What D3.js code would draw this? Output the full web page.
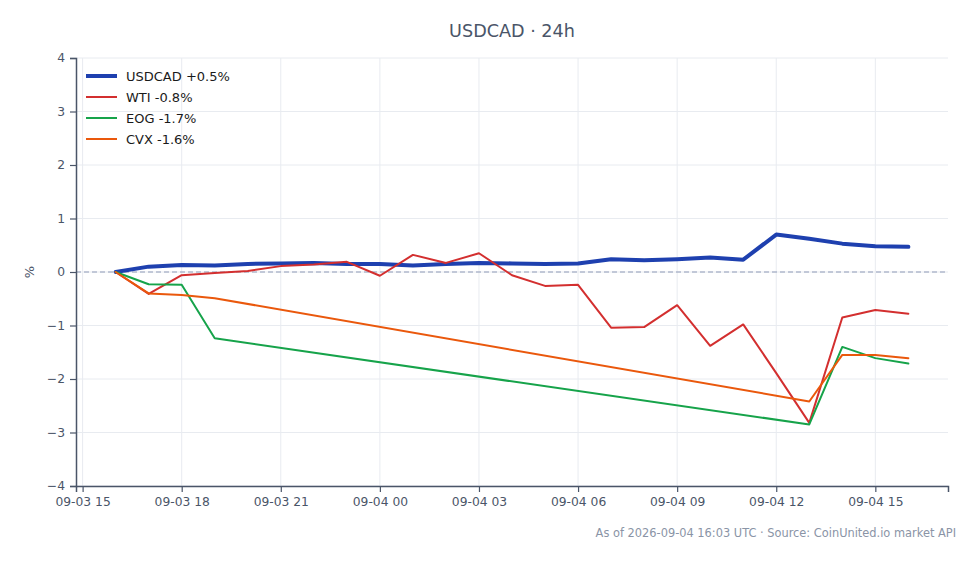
<!DOCTYPE html>
<html>
<head>
<meta charset="utf-8">
<script src="https://cdn.jsdelivr.net/npm/d3@7"></script>
<style>
  html, body { margin: 0; padding: 0; background: #fff; }
  svg { display: block; font-family: "DejaVu Sans", Verdana, sans-serif; }
</style>
</head>
<body>
<svg id="chart" width="980" height="564"></svg>
<script>
// ---- data ----
const times = [
  "2026-09-03T16:00Z","2026-09-03T17:00Z","2026-09-03T18:00Z","2026-09-03T19:00Z",
  "2026-09-03T20:00Z","2026-09-03T21:00Z","2026-09-03T22:00Z","2026-09-03T23:00Z",
  "2026-09-04T00:00Z","2026-09-04T01:00Z","2026-09-04T02:00Z","2026-09-04T03:00Z",
  "2026-09-04T04:00Z","2026-09-04T05:00Z","2026-09-04T06:00Z","2026-09-04T07:00Z",
  "2026-09-04T08:00Z","2026-09-04T09:00Z","2026-09-04T10:00Z","2026-09-04T11:00Z",
  "2026-09-04T12:00Z","2026-09-04T13:00Z","2026-09-04T14:00Z","2026-09-04T15:00Z",
  "2026-09-04T16:00Z"
];
const usdcad = [0, 0.10, 0.13, 0.12, 0.15, 0.16, 0.17, 0.15, 0.15, 0.12, 0.15, 0.17,
  0.16, 0.15, 0.16, 0.24, 0.22, 0.24, 0.27, 0.23, 0.70, 0.62, 0.53, 0.48, 0.47];
const wti = [0, -0.41, -0.06, -0.02, 0.02, 0.11, 0.14, 0.19, -0.07, 0.32, 0.17, 0.35,
  -0.06, -0.26, -0.24, -1.04, -1.03, -0.62, -1.38, -0.98, -1.89, -2.82, -0.85, -0.71, -0.78];
const eog = [0, -0.23, -0.24, -1.24, null, null, null, null, null, null, null, null,
  null, null, null, null, null, null, null, null, null, -2.85, -1.40, -1.61, -1.71];
const cvx = [0, -0.40, -0.43, -0.49, null, null, null, null, null, null, null, null,
  null, null, null, null, null, null, null, null, null, -2.42, -1.55, -1.55, -1.61];
const seriesNames = ["USDCAD +0.5%", "WTI -0.8%", "EOG -1.7%", "CVX -1.6%"];
const seriesColors = ["#1e40af", "#d32f2f", "#16a34a", "#ea580c"];
const seriesWidths = [4, 2, 2, 2];
const yTicks = [-4, -3, -2, -1, 0, 1, 2, 3, 4];
const titleText = "USDCAD · 24h";
const footerText = "As of 2026-09-04 16:03 UTC · Source: CoinUnited.io market API";

// ---- layout ----
const svg = d3.select("#chart");
const m = { left: 76, right: 948, top: 58, bottom: 486 };
const axisColor = "#4a5568";
const gridColor = "#e8ebf0";

const parsed = times.map(t => new Date(t));
const t0 = parsed[0], t1 = parsed[parsed.length - 1];
const pad = 72 * 60 * 1000;
const x = d3.scaleUtc()
  .domain([new Date(+t0 - pad), new Date(+t1 + pad)])
  .range([m.left, m.right]);
const y = d3.scaleLinear().domain([-4, 4]).range([m.bottom, m.top]);

const xTicks = d3.utcHour.every(3).range(new Date(+t0 - pad), new Date(+t1 + pad + 1));

// grid
const grid = svg.append("g");
grid.selectAll("line.v").data(xTicks).join("line")
  .attr("x1", d => x(d)).attr("x2", d => x(d))
  .attr("y1", m.top).attr("y2", m.bottom)
  .attr("stroke", gridColor).attr("stroke-width", 1);
grid.selectAll("line.h").data(yTicks).join("line")
  .attr("x1", m.left).attr("x2", m.right)
  .attr("y1", d => y(d)).attr("y2", d => y(d))
  .attr("stroke", gridColor).attr("stroke-width", 1);

// zero line
svg.append("line")
  .attr("x1", m.left).attr("x2", m.right)
  .attr("y1", y(0)).attr("y2", y(0))
  .attr("stroke", "#8f9bb8").attr("stroke-width", 1.2)
  .attr("stroke-dasharray", "5,3");

// axes
const xAxis = svg.append("g").attr("transform", `translate(0,${m.bottom})`)
  .call(d3.axisBottom(x).tickValues(xTicks).tickFormat(d3.utcFormat("%m-%d %H")).tickSizeOuter(0).tickSize(6).tickPadding(5));
const yAxis = svg.append("g").attr("transform", `translate(${m.left},0)`)
  .call(d3.axisLeft(y).tickValues(yTicks).tickFormat(d3.format("d")).tickSizeOuter(0).tickSize(6).tickPadding(5));
[xAxis, yAxis].forEach(a => {
  a.select(".domain").attr("stroke", axisColor).attr("stroke-width", 1.5);
  a.selectAll(".tick line").attr("stroke", axisColor).attr("stroke-width", 1.2);
  a.selectAll(".tick text").attr("fill", axisColor).attr("font-size", 12.3)
    .attr("font-family", "DejaVu Sans, sans-serif");
});

// y label
svg.append("text")
  .attr("transform", `translate(34,${y(0)}) rotate(-90)`)
  .attr("text-anchor", "middle")
  .attr("fill", axisColor).attr("font-size", 13)
  .text("%");

// lines
const allSeries = [usdcad, wti, eog, cvx];
const line = d3.line().x(d => x(d.t)).y(d => y(d.v));
allSeries.forEach((s, i) => {
  const pts = s.map((v, k) => ({ t: parsed[k], v })).filter(d => d.v !== null);
  svg.append("path")
    .datum(pts)
    .attr("d", line)
    .attr("fill", "none")
    .attr("stroke", seriesColors[i])
    .attr("stroke-width", seriesWidths[i])
    .attr("stroke-linejoin", "round")
    .attr("stroke-linecap", "round");
});

// legend
const lg = svg.append("g").attr("transform", "translate(86,76)");
seriesNames.forEach((name, i) => {
  const g = lg.append("g").attr("transform", `translate(0,${i * 21})`);
  g.append("line").attr("x1", 0).attr("x2", 31).attr("y1", 0).attr("y2", 0)
    .attr("stroke", seriesColors[i]).attr("stroke-width", seriesWidths[i]);
  g.append("text").attr("x", 40).attr("y", 0).attr("dy", "0.35em")
    .attr("font-size", 13).attr("fill", "#1a1a1a").text(name);
});

// title
svg.append("text")
  .attr("x", (m.left + m.right) / 2).attr("y", 37)
  .attr("text-anchor", "middle")
  .attr("font-size", 17.6).attr("fill", "#4a5568")
  .text(titleText);

// footer
svg.append("text")
  .attr("x", 956).attr("y", 537)
  .attr("text-anchor", "end")
  .attr("font-size", 11.4).attr("fill", "#8a94a6")
  .text(footerText);
</script>
</body>
</html>
